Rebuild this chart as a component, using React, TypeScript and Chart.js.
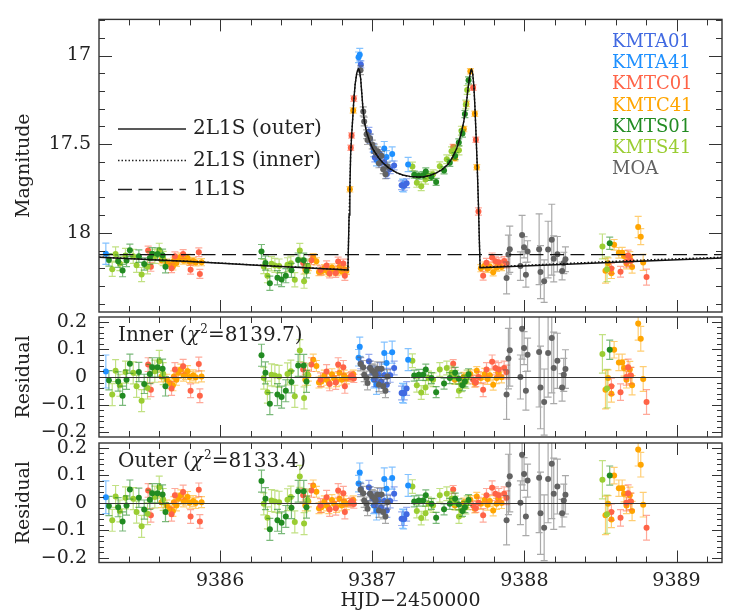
import React, { useEffect, useRef } from "react";
import { Chart, registerables } from "chart.js";
Chart.register(...registerables);

const FONT = "'DejaVu Serif', serif";

// ---------------- axes ----------------
const X_MIN = 9385.204;
const X_MAX = 9389.299;
const MAG_MIN = 16.796;
const MAG_MAX = 18.447;
const RES_MIN = -0.218;
const RES_MAX = 0.218;
const xTicks = [9386, 9387, 9388, 9389];
const xTickLabels = ["9386", "9387", "9388", "9389"];
const magTicks = [17, 17.5, 18];
const magTickLabels = ["17", "17.5", "18"];
const resTicks = [0.2, 0.1, 0, -0.1, -0.2];
const resTickLabels = ["0.2", "0.1", "0", "\u22120.1", "\u22120.2"];

// ---------------- models ----------------
const outerT = [9385.204, 9385.8, 9386.3, 9386.84, 9386.848, 9386.853, 9386.858, 9386.864, 9386.872, 9386.879, 9386.888, 9386.898, 9386.908, 9386.916, 9386.924, 9386.932, 9386.94, 9386.95, 9386.962, 9386.985, 9387.006, 9387.04, 9387.072, 9387.11, 9387.16, 9387.2, 9387.247, 9387.3, 9387.34, 9387.38, 9387.422, 9387.46, 9387.5, 9387.53, 9387.555, 9387.575, 9387.59, 9387.602, 9387.612, 9387.622, 9387.632, 9387.641, 9387.648, 9387.653, 9387.66, 9387.668, 9387.675, 9387.682, 9387.69, 9387.698, 9387.704, 9387.709, 9388.2, 9388.8, 9389.299];
const outerMag = [18.138, 18.162, 18.186, 18.21, 17.9, 17.75, 17.56, 17.46, 17.35, 17.25, 17.16, 17.1, 17.075, 17.085, 17.13, 17.22, 17.31, 17.38, 17.43, 17.49, 17.53, 17.575, 17.607, 17.635, 17.66, 17.674, 17.682, 17.685, 17.684, 17.676, 17.662, 17.643, 17.612, 17.57, 17.525, 17.47, 17.42, 17.37, 17.315, 17.245, 17.17, 17.115, 17.085, 17.078, 17.1, 17.17, 17.29, 17.44, 17.62, 17.84, 18.04, 18.197, 18.18, 18.159, 18.142];
const innerT = [9385.204, 9385.8, 9386.3, 9386.84, 9386.848, 9386.853, 9386.858, 9386.864, 9386.872, 9386.879, 9386.888, 9386.898, 9386.908, 9386.916, 9386.924, 9386.932, 9386.94, 9386.95, 9386.962, 9386.985, 9387.006, 9387.04, 9387.072, 9387.11, 9387.16, 9387.2, 9387.247, 9387.3, 9387.34, 9387.38, 9387.422, 9387.46, 9387.5, 9387.53, 9387.555, 9387.575, 9387.59, 9387.602, 9387.612, 9387.622, 9387.632, 9387.641, 9387.648, 9387.653, 9387.66, 9387.668, 9387.675, 9387.682, 9387.69, 9387.698, 9387.704, 9387.709, 9388.2, 9388.8, 9389.299];
const innerMag = [18.137, 18.161, 18.185, 18.209, 17.9, 17.75, 17.56, 17.46, 17.35, 17.25, 17.16, 17.1, 17.072, 17.083, 17.13, 17.22, 17.31, 17.38, 17.43, 17.49, 17.53, 17.575, 17.607, 17.636, 17.661, 17.675, 17.683, 17.686, 17.685, 17.677, 17.662, 17.643, 17.612, 17.57, 17.525, 17.47, 17.42, 17.37, 17.315, 17.245, 17.17, 17.115, 17.085, 17.076, 17.1, 17.17, 17.29, 17.44, 17.62, 17.84, 18.04, 18.195, 18.176, 18.153, 18.138];
const pointLensT = [9385.204, 9389.299];
const pointLensMag = [18.123, 18.123];

// ---------------- data ----------------
const kmta01T = [9386.925, 9386.978, 9386.986, 9387.006, 9387.017, 9387.035, 9387.05, 9387.058, 9387.079, 9387.096, 9387.118, 9387.144, 9387.193, 9387.21, 9387.226];
const kmta01Mag = [17.05, 17.43, 17.47, 17.52, 17.575, 17.562, 17.555, 17.605, 17.6, 17.668, 17.641, 17.62, 17.732, 17.735, 17.72];
const kmta01Err = [0.02, 0.025, 0.025, 0.025, 0.025, 0.025, 0.025, 0.025, 0.025, 0.025, 0.025, 0.025, 0.025, 0.025, 0.025];
const kmta01Res = [0.05, 0.057, 0.033, 0.015, -0.01, 0.008, 0.027, -0.016, 0.006, -0.028, 0.006, 0.033, -0.058, -0.058, -0.042];

const kmta41T = [9385.249, 9386.91, 9386.918, 9387.01, 9387.028, 9387.04, 9387.079, 9387.094, 9387.131, 9387.199, 9387.206, 9387.236];
const kmta41Mag = [18.118, 17.01, 16.995, 17.54, 17.588, 17.575, 17.525, 17.572, 17.555, 17.732, 17.735, 17.615];
const kmta41Err = [0.06, 0.03, 0.035, 0.03, 0.035, 0.03, 0.04, 0.035, 0.04, 0.035, 0.035, 0.04];
const kmta41Res = [0.02, 0.07, 0.11, -0.01, -0.028, 0.008, 0.087, 0.051, 0.09, -0.058, -0.06, 0.063];

const kmtc01T = [9385.527, 9385.545, 9385.681, 9385.703, 9385.757, 9385.806, 9385.86, 9385.867, 9386.546, 9386.6, 9386.66, 9386.7, 9386.72, 9386.76, 9386.776, 9386.81, 9386.82, 9386.859, 9386.864, 9386.879, 9387.532, 9387.663, 9387.681, 9387.698, 9387.729, 9387.751, 9387.788, 9387.81, 9387.832, 9387.867, 9387.883, 9388.572, 9388.632, 9388.67, 9388.682, 9388.7, 9388.803];
const kmtc01Mag = [18.1, 18.192, 18.2, 18.133, 18.12, 18.208, 18.11, 18.232, 18.17, 18.155, 18.212, 18.184, 18.23, 18.227, 18.162, 18.174, 18.243, 17.52, 17.451, 17.243, 17.516, 17.181, 17.475, 17.88, 18.242, 18.169, 18.139, 18.161, 18.166, 18.159, 18.173, 18.201, 18.22, 18.164, 18.128, 18.158, 18.25];
const kmtc01Err = [0.025, 0.025, 0.025, 0.025, 0.025, 0.025, 0.025, 0.025, 0.025, 0.025, 0.025, 0.025, 0.025, 0.025, 0.025, 0.025, 0.025, 0.015, 0.015, 0.015, 0.015, 0.015, 0.015, 0.02, 0.025, 0.025, 0.025, 0.025, 0.025, 0.025, 0.025, 0.03, 0.03, 0.03, 0.03, 0.03, 0.045];
const kmtc01Res = [0.045, -0.046, -0.042, 0.027, 0.039, -0.05, 0.047, -0.068, 0.027, 0.045, -0.01, 0.02, -0.025, -0.02, 0.045, 0.035, -0.034, 0.0, 0.005, -0.005, 0.048, -0.01, -0.02, 0.0, -0.046, 0.027, 0.055, 0.033, 0.027, 0.033, 0.018, -0.034, -0.055, 0.0, 0.035, 0.005, -0.091];

const kmtc41T = [9385.615, 9385.65, 9385.67, 9385.69, 9385.696, 9385.713, 9385.725, 9385.742, 9385.76, 9385.773, 9385.786, 9385.8, 9385.823, 9385.84, 9385.878,
  9386.56, 9386.58, 9386.612, 9386.633, 9386.65, 9386.666, 9386.685, 9386.7, 9386.715, 9386.735, 9386.75, 9386.765, 9386.785, 9386.8, 9386.815, 9386.83,
  9386.853, 9386.875, 9387.543, 9387.602, 9387.619, 9387.645, 9387.674, 9387.687,
  9387.714, 9387.74, 9387.758, 9387.773, 9387.795, 9387.817, 9387.83, 9387.85,
  9388.533, 9388.55, 9388.572, 9388.59, 9388.621, 9388.643, 9388.655, 9388.671, 9388.693, 9388.699, 9388.708, 9388.748, 9388.765, 9388.781];
const kmtc41Mag = [18.155, 18.168, 18.18, 18.19, 18.158, 18.17, 18.146, 18.135, 18.157, 18.152, 18.142, 18.164, 18.159, 18.167, 18.166,
  18.208, 18.194, 18.137, 18.161, 18.222, 18.219, 18.199, 18.214, 18.225, 18.196, 18.211, 18.222, 18.193, 18.218, 18.204, 18.215,
  17.755, 17.31, 17.58, 17.415, 17.273, 17.089, 17.328, 17.63,
  18.2, 18.185, 18.203, 18.19, 18.223, 18.198, 18.178, 18.193,
  18.214, 18.172, 18.228, 18.068, 18.113, 18.112, 18.131, 18.174, 18.136, 18.158, 18.193, 17.967, 18.022, 18.167];
const kmtc41Err = [0.02, 0.02, 0.02, 0.02, 0.02, 0.02, 0.02, 0.02, 0.02, 0.02, 0.02, 0.02, 0.02, 0.02, 0.02,
  0.02, 0.02, 0.02, 0.02, 0.02, 0.02, 0.02, 0.02, 0.02, 0.02, 0.02, 0.02, 0.02, 0.02, 0.02, 0.02,
  0.015, 0.015, 0.015, 0.015, 0.015, 0.015, 0.015, 0.015,
  0.02, 0.02, 0.02, 0.02, 0.02, 0.02, 0.02, 0.02,
  0.07, 0.03, 0.03, 0.03, 0.03, 0.03, 0.03, 0.03, 0.03, 0.03, 0.035, 0.06, 0.045, 0.045];
const kmtc41Res = [0.002, -0.01, -0.022, -0.03, 0.002, -0.01, 0.015, 0.027, 0.005, 0.011, 0.021, 0.0, 0.006, -0.001, 0.002,
  -0.01, 0.005, 0.063, 0.04, -0.02, -0.016, 0.005, -0.01, -0.02, 0.01, -0.005, -0.015, 0.015, -0.01, 0.005, -0.005,
  0.0, 0.01, -0.01, 0.002, -0.004, 0.011, -0.022, 0.023,
  -0.004, 0.011, -0.007, 0.006, -0.028, -0.004, 0.015, -0.001,
  -0.046, -0.004, -0.061, 0.099, 0.053, 0.053, 0.033, -0.01, 0.027, 0.005, -0.03, 0.194, 0.139, -0.007];

const kmts01T = [9385.269, 9385.33, 9385.359, 9385.385, 9385.407, 9385.466, 9385.501, 9385.538, 9385.554, 9385.589, 9385.622, 9385.641,
  9386.272, 9386.298, 9386.327, 9386.377, 9386.404, 9386.432, 9386.469, 9386.513, 9386.55, 9386.568,
  9387.276, 9387.306, 9387.335, 9387.352, 9387.389, 9387.42, 9387.472, 9387.51, 9387.545, 9387.569, 9387.593, 9387.609, 9387.633,
  9388.561];
const kmts01Mag = [18.153, 18.16, 18.213, 18.156, 18.099, 18.132, 18.176, 18.142, 18.119, 18.12, 18.127, 18.191,
  18.106, 18.171, 18.285, 18.254, 18.264, 18.242, 18.212, 18.154, 18.155, 18.214,
  17.672, 17.678, 17.675, 17.654, 17.685, 17.713, 17.648, 17.605, 17.567, 17.49, 17.44, 17.33, 17.14,
  18.059];
const kmts01Err = [0.035, 0.035, 0.035, 0.035, 0.035, 0.035, 0.035, 0.035, 0.035, 0.035, 0.035, 0.035,
  0.04, 0.04, 0.04, 0.04, 0.04, 0.04, 0.04, 0.04, 0.04, 0.04,
  0.02, 0.02, 0.02, 0.02, 0.02, 0.02, 0.02, 0.02, 0.02, 0.02, 0.02, 0.02, 0.02,
  0.035];
const kmts01Res = [-0.012, -0.016, -0.068, -0.01, 0.048, 0.018, -0.025, 0.011, 0.035, 0.035, 0.03, -0.034,
  0.079, 0.015, -0.097, -0.064, -0.073, -0.05, -0.018, 0.042, 0.042, -0.016,
  0.005, 0.008, 0.008, 0.027, -0.004, -0.055, -0.024, -0.004, 0.015, -0.006, -0.03, -0.016, 0.01,
  0.099];

const kmts41T = [9385.291, 9385.313, 9385.341, 9385.378, 9385.429, 9385.451, 9385.484, 9385.523, 9385.571, 9385.6, 9385.626,
  9386.287, 9386.311, 9386.338, 9386.36, 9386.388, 9386.443, 9386.465, 9386.491, 9386.524, 9386.552, 9386.575,
  9387.264, 9387.293, 9387.322, 9387.35, 9387.37, 9387.4, 9387.444, 9387.49, 9387.521, 9387.545, 9387.57, 9387.586, 9387.615, 9387.624,
  9388.513, 9388.543];
const kmts41Mag = [18.206, 18.12, 18.174, 18.128, 18.133, 18.183, 18.236, 18.192, 18.133, 18.099, 18.145,
  18.19, 18.242, 18.175, 18.184, 18.188, 18.181, 18.172, 18.265, 18.1, 18.273, 18.188,
  17.626, 17.718, 17.737, 17.7, 17.68, 17.67, 17.625, 17.585, 17.54, 17.53, 17.535, 17.424, 17.276, 17.194,
  18.077, 18.206];
const kmts41Err = [0.04, 0.04, 0.04, 0.04, 0.04, 0.04, 0.04, 0.04, 0.04, 0.04, 0.04,
  0.04, 0.04, 0.04, 0.04, 0.04, 0.04, 0.04, 0.04, 0.04, 0.04, 0.04,
  0.025, 0.025, 0.025, 0.025, 0.025, 0.025, 0.025, 0.025, 0.025, 0.025, 0.025, 0.025, 0.025, 0.025,
  0.07, 0.07];
const kmts41Res = [-0.064, 0.023, -0.03, 0.018, 0.015, -0.034, -0.086, -0.04, 0.021, 0.057, 0.012,
  -0.004, -0.055, 0.008, 0.005, 0.002, 0.011, 0.021, -0.07, 0.096, -0.076, 0.01,
  0.059, -0.03, -0.056, -0.038, -0.004, -0.01, 0.027, 0.033, 0.015, -0.001, -0.05, -0.028, -0.016, 0.0,
  0.084, -0.042];

const moaT = [9386.923, 9386.941, 9386.947, 9386.963, 9386.969, 9386.985, 9387.0, 9387.013, 9387.022, 9387.035, 9387.044, 9387.061, 9387.072, 9387.087, 9387.1,
  9387.883, 9387.895, 9387.904, 9387.974, 9387.985, 9387.998, 9388.01, 9388.021, 9388.097, 9388.106, 9388.13, 9388.156, 9388.18, 9388.193, 9388.217, 9388.248, 9388.259, 9388.27];
const moaMag = [17.083, 17.315, 17.372, 17.444, 17.477, 17.467, 17.502, 17.525, 17.547, 17.54, 17.608, 17.566, 17.641, 17.67, 17.626,
  18.255, 18.123, 18.093, 18.188, 18.012, 18.082, 18.237, 18.105, 18.093, 18.222, 18.273, 18.095, 18.039, 18.147, 18.121, 18.216, 18.17, 18.149];
const moaErr = [0.025, 0.025, 0.025, 0.025, 0.025, 0.025, 0.025, 0.025, 0.025, 0.025, 0.025, 0.025, 0.025, 0.025, 0.025,
  0.09, 0.11, 0.13, 0.08, 0.11, 0.06, 0.07, 0.06, 0.2, 0.15, 0.12, 0.16, 0.2, 0.13, 0.1, 0.05, 0.06, 0.07];
const moaRes = [0.047, 0.035, 0.008, -0.004, -0.022, 0.033, 0.023, 0.018, 0.008, 0.03, -0.028, 0.03, -0.034, -0.05, 0.002,
  -0.064, 0.067, 0.097, 0.0, 0.175, 0.105, -0.05, 0.081, 0.091, -0.038, -0.091, 0.087, 0.142, 0.033, 0.059, -0.038, 0.008, 0.029];

const seriesNames = ["KMTA01", "KMTA41", "KMTC01", "KMTC41", "KMTS01", "KMTS41", "MOA"];
const seriesColors = ["#4169E1", "#1E90FF", "#FF6347", "#FFA500", "#228B22", "#9ACD32", "#626262"];
const seriesErrColors = ["rgba(65,105,225,0.55)", "rgba(30,144,255,0.55)", "rgba(255,99,71,0.55)", "rgba(255,165,0,0.55)", "rgba(34,139,34,0.6)", "rgba(154,205,50,0.6)", "rgba(98,98,98,0.55)"];
const seriesT = [kmta01T, kmta41T, kmtc01T, kmtc41T, kmts01T, kmts41T, moaT];
const seriesMag = [kmta01Mag, kmta41Mag, kmtc01Mag, kmtc41Mag, kmts01Mag, kmts41Mag, moaMag];
const seriesErr = [kmta01Err, kmta41Err, kmtc01Err, kmtc41Err, kmts01Err, kmts41Err, moaErr];
const seriesRes = [kmta01Res, kmta41Res, kmtc01Res, kmtc41Res, kmts01Res, kmts41Res, moaRes];

const chiLabels = [
  { name: "Inner", chi2: "8139.7" },
  { name: "Outer", chi2: "8133.4" },
];

// ---------------- plugins ----------------
const errorBarPlugin = {
  id: "errorBars",
  beforeDatasetDraw(chart: any, args: any) {
    const ds = chart.data.datasets[args.index];
    if (!ds.errs) return;
    const { ctx, chartArea: a } = chart;
    const xs = chart.scales.x, ys = chart.scales.y;
    ctx.save();
    ctx.beginPath();
    ctx.rect(a.left, a.top, a.right - a.left, a.bottom - a.top);
    ctx.clip();
    ctx.strokeStyle = ds.errColor;
    ctx.lineWidth = 1.2;
    ctx.beginPath();
    ds.data.forEach((p: any, i: number) => {
      const e = ds.errs[i];
      const px = xs.getPixelForValue(p.x);
      const y1 = ys.getPixelForValue(p.y - e);
      const y2 = ys.getPixelForValue(p.y + e);
      ctx.moveTo(px, y1); ctx.lineTo(px, y2);
      ctx.moveTo(px - 3.5, y1); ctx.lineTo(px + 3.5, y1);
      ctx.moveTo(px - 3.5, y2); ctx.lineTo(px + 3.5, y2);
    });
    ctx.stroke();
    ctx.restore();
  },
};

const framePlugin = {
  id: "frame",
  afterDatasetsDraw(chart: any, _args: any, opts: any) {
    const { ctx, chartArea: a } = chart;
    const xs = chart.scales.x, ys = chart.scales.y;
    ctx.save();
    ctx.strokeStyle = "#333";
    ctx.lineWidth = 1;
    ctx.beginPath();
    if (opts.zeroLine) {
      const y0 = Math.round(ys.getPixelForValue(0)) + 0.5;
      ctx.moveTo(a.left, y0); ctx.lineTo(a.right, y0);
    }
    for (let k = Math.ceil(xs.min * 5 - 1e-6); k <= Math.floor(xs.max * 5 + 1e-6); k++) {
      const px = Math.round(xs.getPixelForValue(k / 5)) + 0.5;
      const len = k % 5 === 0 ? 12 : 6;
      ctx.moveTo(px, a.top); ctx.lineTo(px, a.top + len);
      ctx.moveTo(px, a.bottom); ctx.lineTo(px, a.bottom - len);
    }
    const step = opts.yMinor;
    for (let k = Math.ceil(ys.min / step - 1e-6); k <= Math.floor(ys.max / step + 1e-6); k++) {
      const py = Math.round(ys.getPixelForValue(k * step)) + 0.5;
      const len = k % opts.yMajorEvery === 0 ? opts.yMajorLen : opts.yMinorLen;
      ctx.moveTo(a.left, py); ctx.lineTo(a.left + len, py);
      ctx.moveTo(a.right, py); ctx.lineTo(a.right - len, py);
    }
    ctx.stroke();
    ctx.lineWidth = 1.4;
    ctx.strokeRect(a.left, a.top, a.right - a.left, a.bottom - a.top);
    ctx.restore();
  },
};

const mainLegendPlugin = {
  id: "mainLegend",
  afterDraw(chart: any) {
    const ctx = chart.ctx;
    ctx.save();
    ctx.textBaseline = "middle";
    ctx.textAlign = "left";
    ctx.font = `18px ${FONT}`;
    seriesNames.forEach((n, i) => {
      ctx.fillStyle = seriesColors[i];
      ctx.fillText(n, 612, 42 + i * 21.3);
    });
    const items = [
      { label: "2L1S (outer)", dash: [] as number[], y: 129 },
      { label: "2L1S (inner)", dash: [1.5, 2], y: 160.5 },
      { label: "1L1S", dash: [14, 6.5], y: 189.5 },
    ];
    ctx.fillStyle = "#222";
    ctx.strokeStyle = "#222";
    items.forEach((it) => {
      ctx.lineWidth = 1.4;
      ctx.setLineDash(it.dash);
      ctx.beginPath();
      ctx.moveTo(118, it.y); ctx.lineTo(186, it.y);
      ctx.stroke();
      ctx.setLineDash([]);
      ctx.font = `20px ${FONT}`;
      ctx.fillText(it.label, 193, it.y);
    });
    ctx.restore();
  },
};

const chiLabelPlugin = {
  id: "chiLabel",
  afterDraw(chart: any, _args: any, opts: any) {
    const ctx = chart.ctx;
    const a = chart.chartArea;
    let x = 118;
    const y = a.top + 18.5;
    ctx.save();
    ctx.fillStyle = "#222";
    ctx.textBaseline = "middle";
    ctx.textAlign = "left";
    ctx.font = `20px ${FONT}`;
    const p1 = `${opts.name} (`;
    ctx.fillText(p1, x, y); x += ctx.measureText(p1).width;
    ctx.font = `italic 20px ${FONT}`;
    ctx.fillText("\u03C7", x, y); x += ctx.measureText("\u03C7").width + 1;
    ctx.font = `12px ${FONT}`;
    ctx.fillText("2", x, y - 6); x += ctx.measureText("2").width;
    ctx.font = `20px ${FONT}`;
    ctx.fillText(`=${opts.chi2})`, x, y);
    ctx.restore();
  },
};

// ---------------- configs ----------------
function pointDatasets(kind: "mag" | "res") {
  const order = [6, 0, 1, 4, 5, 2, 3];
  return order.map((s) => ({
    label: seriesNames[s],
    data: seriesT[s].map((t, i) => ({ x: t, y: kind === "mag" ? seriesMag[s][i] : seriesRes[s][i] })),
    errs: seriesErr[s],
    errColor: seriesErrColors[s],
    pointRadius: 3,
    pointHoverRadius: 3,
    pointBackgroundColor: seriesColors[s],
    pointBorderWidth: 0,
    borderColor: seriesColors[s],
    showLine: false,
  }));
}

function lineDataset(t: number[], m: number[], dash: number[], width: number) {
  return {
    label: "model",
    data: t.map((v, i) => ({ x: v, y: m[i] })),
    showLine: true,
    pointRadius: 0,
    borderColor: "#111",
    borderWidth: width,
    borderDash: dash,
    tension: 0,
    fill: false,
  };
}

const tickFont = { family: FONT, size: 19 };
const titleFont = { family: FONT, size: 19 };

function yScale(min: number, max: number, reverse: boolean, ticks: number[], labels: string[], title: string, pad: number) {
  return {
    type: "linear",
    min, max, reverse,
    afterFit: (s: any) => { s.width = 99; },
    afterBuildTicks: (s: any) => { s.ticks = ticks.map((v) => ({ value: v })); },
    grid: { display: false, drawTicks: false },
    border: { display: false },
    ticks: {
      font: tickFont,
      color: "#222",
      padding: pad,
      autoSkip: false,
      callback: (_v: any, i: number) => labels[i],
    },
    title: { display: true, text: title, font: titleFont, color: "#222", padding: { top: 13, bottom: 0 } },
  };
}

function xScale(show: boolean) {
  return {
    type: "linear",
    min: X_MIN, max: X_MAX,
    display: show,
    position: "bottom",
    afterFit: (s: any) => { s.height = show ? 49.5 : 0; },
    afterBuildTicks: (s: any) => { s.ticks = xTicks.map((v) => ({ value: v })); },
    grid: { display: false, drawTicks: false },
    border: { display: false },
    ticks: {
      font: tickFont,
      color: "#222",
      padding: 7,
      maxRotation: 0,
      autoSkip: false,
      callback: (_v: any, i: number) => xTickLabels[i],
    },
    title: { display: true, text: "HJD\u22122450000", font: titleFont, color: "#222", padding: { top: 0, bottom: 0 } },
  };
}

function mainConfig(): any {
  return {
    type: "scatter",
    data: {
      datasets: [
        lineDataset(outerT, outerMag, [], 1.4),
        lineDataset(innerT, innerMag, [1.5, 2], 1.4),
        lineDataset(pointLensT, pointLensMag, [14, 6.5], 1.3),
        ...pointDatasets("mag"),
      ],
    },
    options: {
      responsive: false,
      animation: false,
      events: [],
      layout: { autoPadding: false, padding: { top: 13, right: 14, bottom: 300, left: 0 } },
      scales: {
        x: xScale(false),
        y: yScale(MAG_MIN, MAG_MAX, true, magTicks, magTickLabels, "Magnitude", 8),
      },
      plugins: {
        legend: { display: false },
        tooltip: { enabled: false },
        frame: { yMinor: 0.1, yMajorEvery: 5, yMajorLen: 13, yMinorLen: 6, zeroLine: false },
      },
    },
    plugins: [errorBarPlugin, framePlugin, mainLegendPlugin],
  };
}

function resConfig(idx: number): any {
  const bottomPanel = idx === 1;
  return {
    type: "scatter",
    data: { datasets: pointDatasets("res") },
    options: {
      responsive: false,
      animation: false,
      events: [],
      layout: {
        autoPadding: false,
        padding: bottomPanel ? { top: 443, right: 14, bottom: 0, left: 0 } : { top: 317, right: 14, bottom: 175, left: 0 },
      },
      scales: {
        x: xScale(bottomPanel),
        y: yScale(RES_MIN, RES_MAX, false, resTicks, resTickLabels, "Residual", 12),
      },
      plugins: {
        legend: { display: false },
        tooltip: { enabled: false },
        frame: { yMinor: 0.02, yMajorEvery: 5, yMajorLen: 10, yMinorLen: 5, zeroLine: true },
        chiLabel: chiLabels[idx],
      },
    },
    plugins: [errorBarPlugin, framePlugin, chiLabelPlugin],
  };
}

export default function App() {
  const r1 = useRef<HTMLCanvasElement>(null);
  const r2 = useRef<HTMLCanvasElement>(null);
  const r3 = useRef<HTMLCanvasElement>(null);
  useEffect(() => {
    const c1 = new Chart(r1.current!, mainConfig());
    const c2 = new Chart(r2.current!, resConfig(0));
    const c3 = new Chart(r3.current!, resConfig(1));
    return () => { c1.destroy(); c2.destroy(); c3.destroy(); };
  }, []);
  const cs: React.CSSProperties = { position: "absolute", left: 0, top: 0, width: 736, height: 612 };
  return (
    <div style={{ position: "absolute", left: 0, top: 0, width: 736, height: 612, background: "#fff" }}>
      <canvas ref={r1} width={736} height={612} style={cs} />
      <canvas ref={r2} width={736} height={612} style={cs} />
      <canvas ref={r3} width={736} height={612} style={cs} />
    </div>
  );
}
